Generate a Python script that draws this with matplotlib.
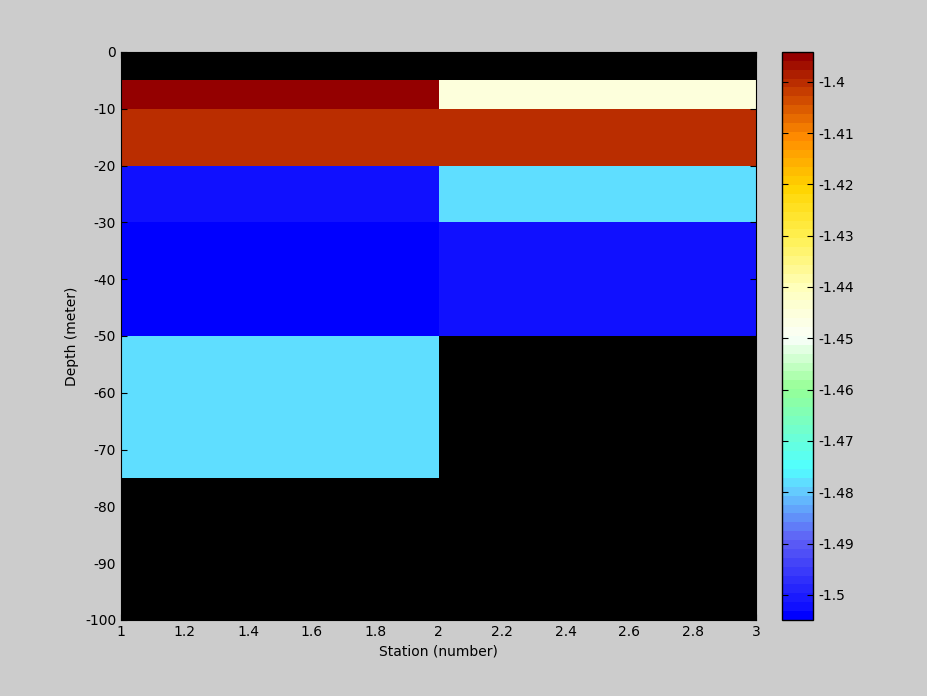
import numpy as np
import matplotlib
matplotlib.use("Agg")
import matplotlib.pyplot as plt
from matplotlib.colors import LinearSegmentedColormap, ListedColormap

plt.rcParams['axes.unicode_minus'] = False

# station edges and depth edges
stations = [1, 2, 3]
depths = [0, -5, -10, -20, -30, -50, -75, -100]

# cell values (rows = depth layers, cols = stations); nan drawn as background
col1 = [np.nan, -1.3945, -1.400, -1.502, -1.5045, -1.478, np.nan]
col2 = [np.nan, -1.446, -1.400, -1.478, -1.502, np.nan, np.nan]

vmin, vmax = -1.5049, -1.3942

# colormap anchors
anchors = [
    (0.000, (0, 0, 255)),
    (0.016, (16, 16, 255)),
    (0.134, (95, 95, 245)),
    (0.225, (100, 210, 255)),
    (0.265, (80, 255, 255)),
    (0.405, (150, 255, 150)),
    (0.496, (250, 255, 250)),
    (0.586, (255, 255, 190)),
    (0.677, (255, 240, 80)),
    (0.767, (255, 212, 0)),
    (0.857, (255, 140, 0)),
    (0.948, (190, 50, 0)),
    (1.000, (148, 0, 0)),
]
base = LinearSegmentedColormap.from_list(
    "oct", [(p, tuple(c / 255 for c in rgb)) for p, rgb in anchors])
cmap = ListedColormap(base(np.linspace(0, 1, 64)))
cmap.set_bad((0, 0, 0, 0))

Z = np.ma.masked_invalid(np.array([col1, col2]).T)

fig = plt.figure(figsize=(9.28, 6.96), dpi=100, facecolor="#cccccc")
ax = fig.add_axes([0.1304, 0.1092, 0.6843, 0.8161])
ax.set_facecolor("black")
mesh = ax.pcolormesh(stations, depths, Z, cmap=cmap, vmin=vmin, vmax=vmax)
ax.set_xlim(1, 3)
ax.set_ylim(-100, 0)
ax.set_xticks(np.arange(1, 3.01, 0.2))
ax.set_xticklabels(["1", "1.2", "1.4", "1.6", "1.8", "2", "2.2", "2.4", "2.6", "2.8", "3"])
ax.set_yticks(np.arange(-100, 1, 10))
ax.tick_params(direction="in", top=True, right=True, labelsize=10, length=4)
ax.set_xlabel("Station (number)", fontsize=10)
ax.set_ylabel("Depth (meter)", fontsize=10)

cax = fig.add_axes([0.8427, 0.1092, 0.0334, 0.8161])
cb = fig.colorbar(mesh, cax=cax)
cb.set_ticks([-1.5, -1.49, -1.48, -1.47, -1.46, -1.45, -1.44, -1.43, -1.42, -1.41, -1.4])
cb.set_ticklabels(["-1.5", "-1.49", "-1.48", "-1.47", "-1.46", "-1.45", "-1.44",
                   "-1.43", "-1.42", "-1.41", "-1.4"])
cax.tick_params(direction="in", left=True, right=True, labelsize=10, length=4)
cb.outline.set_linewidth(1)

plt.savefig("out.png", dpi=100, facecolor="#cccccc")
